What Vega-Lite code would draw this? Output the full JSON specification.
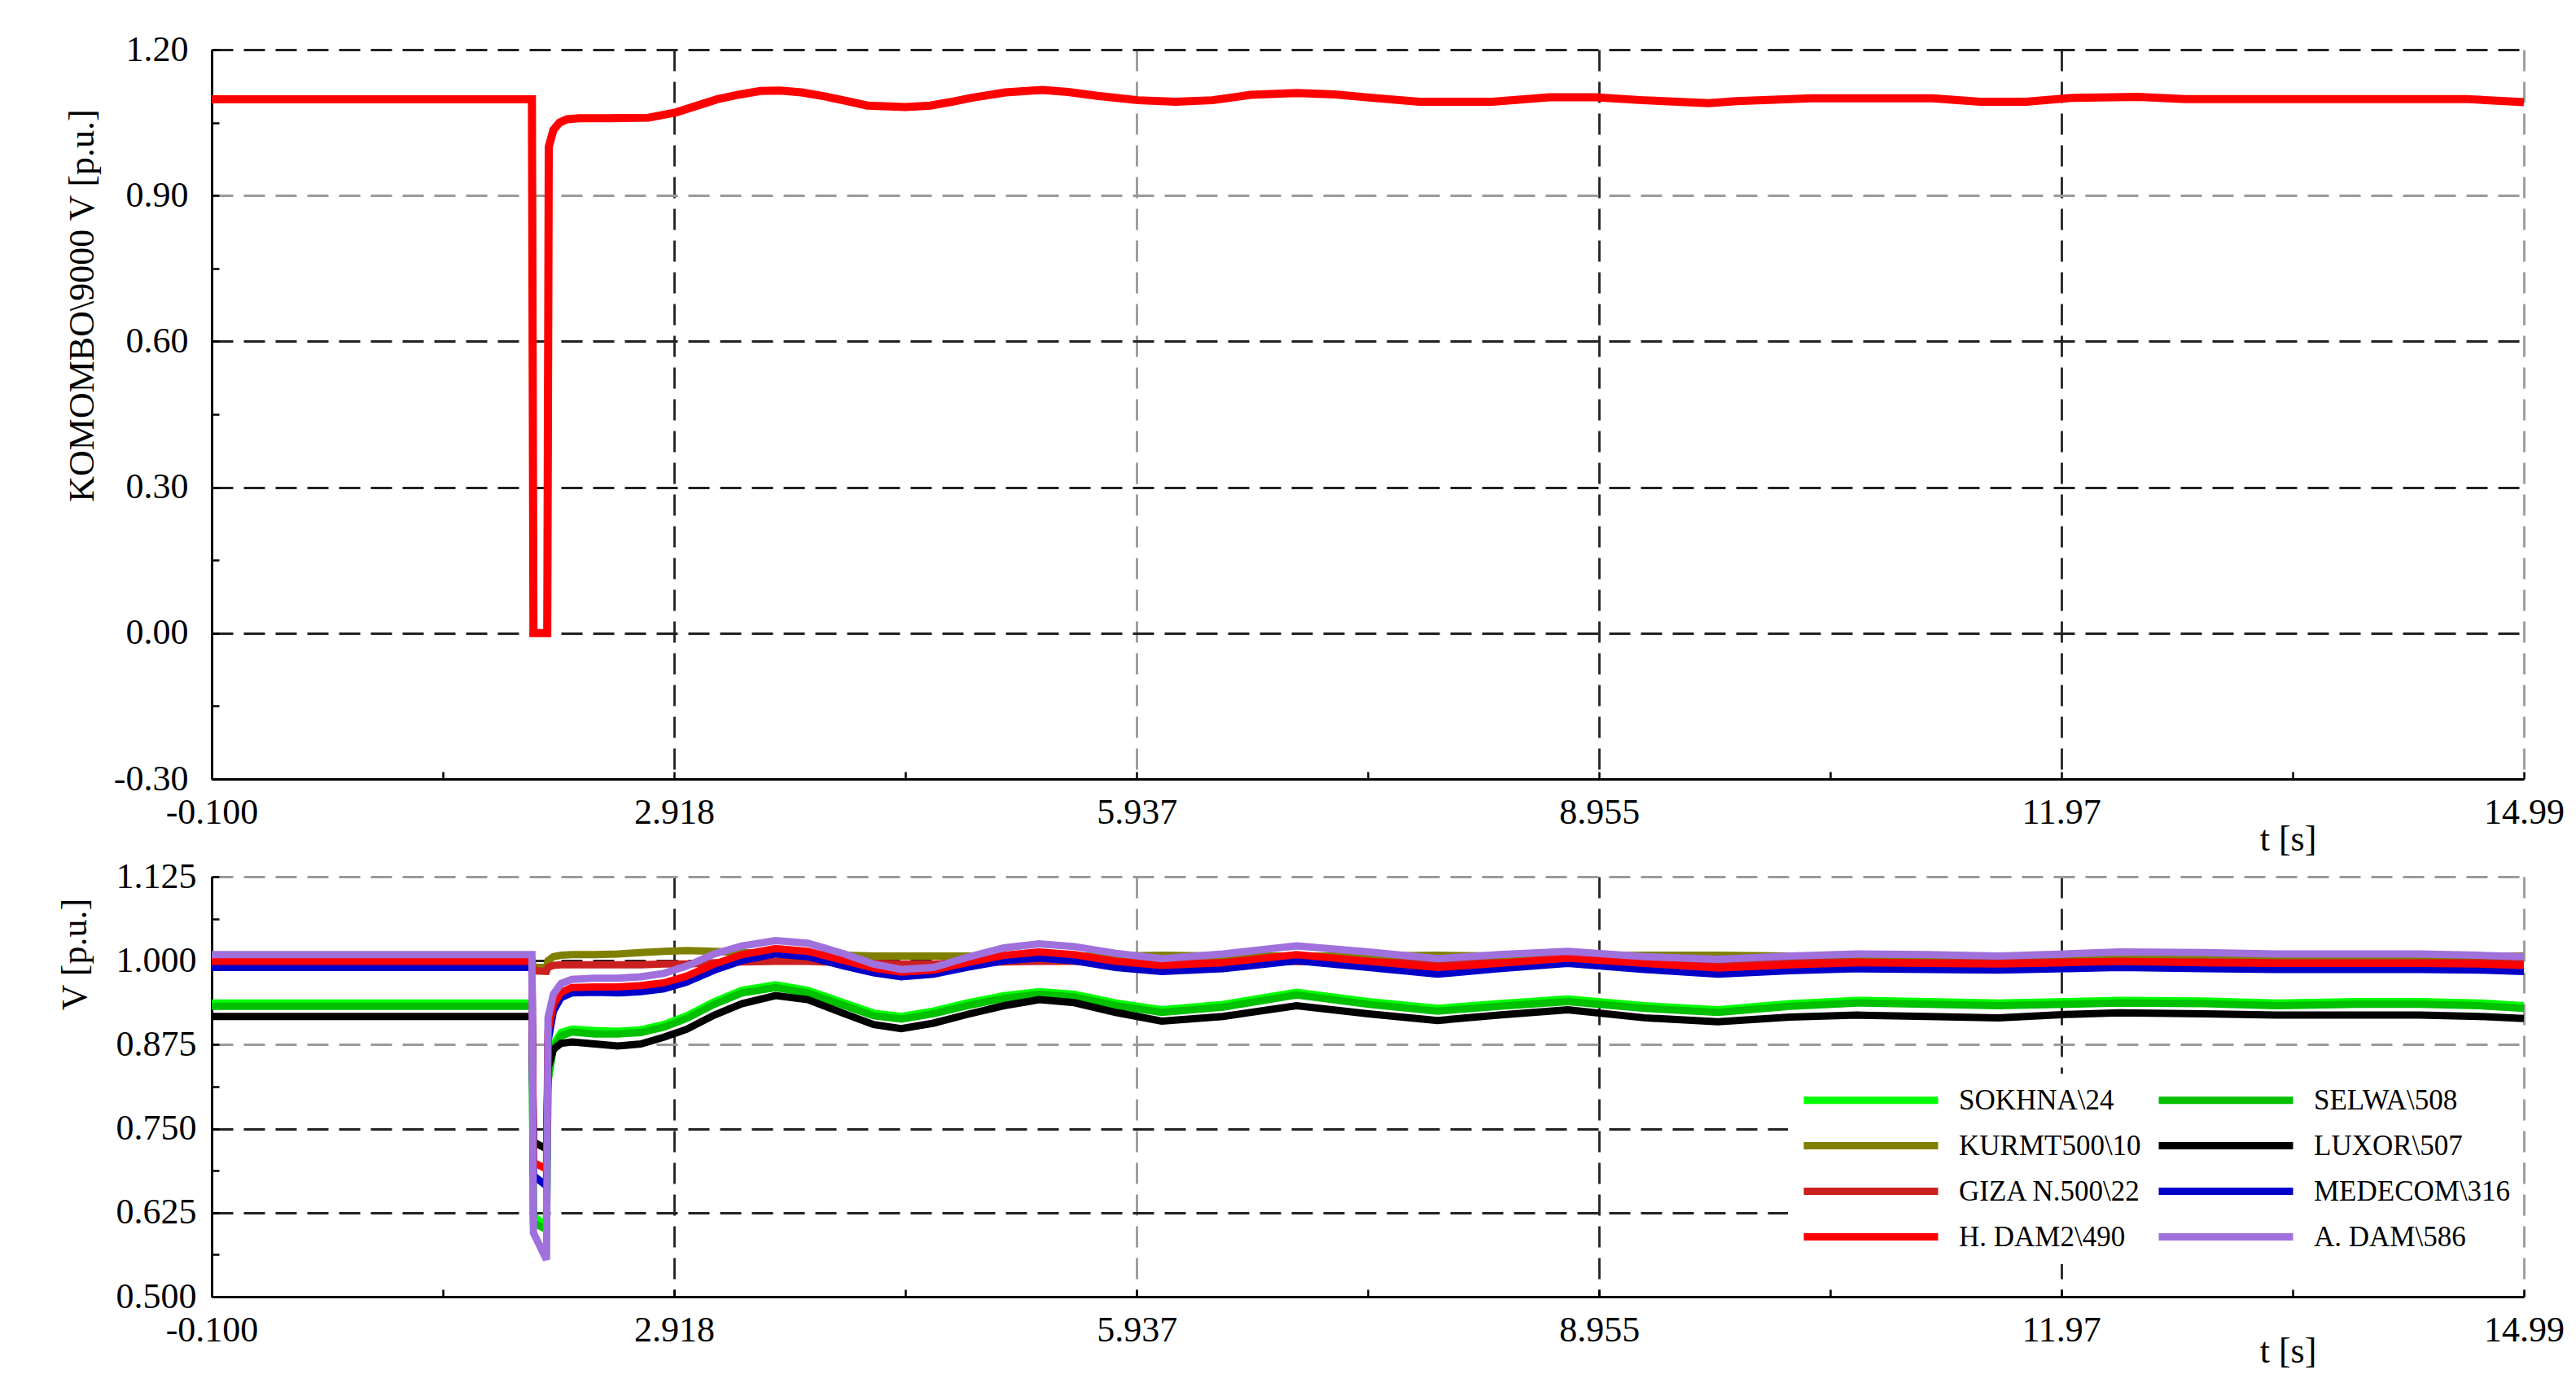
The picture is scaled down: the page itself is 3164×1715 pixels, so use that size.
{
  "$schema": "https://vega.github.io/schema/vega-lite/v6.json",
  "background": "white",
  "padding": {"left": 70, "top": 39, "right": 5, "bottom": 5},
  "spacing": 120,
  "bounds": "flush",
  "config": {
    "font": "Liberation Serif",
    "view": {"stroke": null},
    "axis": {
      "domainColor": "#000000", "domainWidth": 3,
      "tickColor": "#000000", "tickWidth": 2.5, "tickSize": -9,
      "labelFont": "Liberation Serif", "labelFontSize": 44, "labelColor": "#000000",
      "labelFlush": false, "labelOverlap": false, "labelBound": false,
      "titleFont": "Liberation Serif", "titleFontSize": 44, "titleFontWeight": "normal", "titleColor": "#000000",
      "grid": true, "gridDash": [26, 13], "gridWidth": 2.8
    },
    "legend": {
      "labelFont": "Liberation Serif", "labelFontSize": 35, "labelColor": "#000000"
    }
  },
  "datasets": {
    "top": [
      {"t": -0.1, "v": 1.098}, {"t": 1.99, "v": 1.098}, {"t": 2.0, "v": 0.0}, {"t": 2.09, "v": 0.0},
      {"t": 2.1, "v": 1.0}, {"t": 2.13, "v": 1.035}, {"t": 2.17, "v": 1.05}, {"t": 2.22, "v": 1.057},
      {"t": 2.3, "v": 1.059}, {"t": 2.5, "v": 1.059}, {"t": 2.75, "v": 1.06}, {"t": 2.93, "v": 1.071},
      {"t": 3.05, "v": 1.083}, {"t": 3.2, "v": 1.098}, {"t": 3.35, "v": 1.108}, {"t": 3.48, "v": 1.115},
      {"t": 3.61, "v": 1.116}, {"t": 3.75, "v": 1.112}, {"t": 3.9, "v": 1.104}, {"t": 4.02, "v": 1.096},
      {"t": 4.18, "v": 1.085}, {"t": 4.43, "v": 1.082}, {"t": 4.59, "v": 1.085}, {"t": 4.75, "v": 1.094},
      {"t": 4.86, "v": 1.101}, {"t": 5.08, "v": 1.112}, {"t": 5.32, "v": 1.117}, {"t": 5.49, "v": 1.113},
      {"t": 5.68, "v": 1.105}, {"t": 5.946, "v": 1.096}, {"t": 6.19, "v": 1.093}, {"t": 6.43, "v": 1.096},
      {"t": 6.68, "v": 1.107}, {"t": 6.98, "v": 1.111}, {"t": 7.23, "v": 1.108}, {"t": 7.47, "v": 1.101},
      {"t": 7.78, "v": 1.093}, {"t": 8.26, "v": 1.093}, {"t": 8.63, "v": 1.102}, {"t": 8.93, "v": 1.102},
      {"t": 9.24, "v": 1.096}, {"t": 9.67, "v": 1.09}, {"t": 9.85, "v": 1.094}, {"t": 10.34, "v": 1.1},
      {"t": 11.13, "v": 1.1}, {"t": 11.44, "v": 1.093}, {"t": 11.74, "v": 1.093}, {"t": 12.05, "v": 1.101},
      {"t": 12.47, "v": 1.103}, {"t": 12.78, "v": 1.0985}, {"t": 14.61, "v": 1.0985}, {"t": 14.99, "v": 1.092}
    ],
    "names": [
      {"k": "SOK", "name": "SOKHNA\\24"}, {"k": "SEL", "name": "SELWA\\508"},
      {"k": "KUR", "name": "KURMT500\\10"}, {"k": "LUX", "name": "LUXOR\\507"},
      {"k": "GIZ", "name": "GIZA N.500\\22"}, {"k": "MED", "name": "MEDECOM\\316"},
      {"k": "HD", "name": "H. DAM2\\490"}, {"k": "AD", "name": "A. DAM\\586"}
    ],
    "bottom": [
      {"t": -0.1, "SOK": 0.937, "SEL": 0.932, "KUR": 1.0, "LUX": 0.917, "GIZ": 0.997, "MED": 0.99, "HD": 0.999, "AD": 1.009},
      {"t": 1.99, "SOK": 0.937, "SEL": 0.932, "KUR": 1.0, "LUX": 0.917, "GIZ": 0.997, "MED": 0.99, "HD": 0.999, "AD": 1.009},
      {"t": 2.0, "SOK": 0.62, "SEL": 0.61, "KUR": 0.99, "LUX": 0.73, "GIZ": 0.985, "MED": 0.68, "HD": 0.7, "AD": 0.595},
      {"t": 2.085, "SOK": 0.605, "SEL": 0.6, "KUR": 0.99, "LUX": 0.72, "GIZ": 0.984, "MED": 0.665, "HD": 0.69, "AD": 0.555},
      {"t": 2.095, "SOK": 0.83, "SEL": 0.82, "KUR": 1.0, "LUX": 0.84, "GIZ": 0.99, "MED": 0.88, "HD": 0.895, "AD": 0.915},
      {"t": 2.13, "SOK": 0.875, "SEL": 0.87, "KUR": 1.006, "LUX": 0.868, "GIZ": 0.993, "MED": 0.925, "HD": 0.935, "AD": 0.95},
      {"t": 2.18, "SOK": 0.893, "SEL": 0.888, "KUR": 1.008, "LUX": 0.877, "GIZ": 0.994, "MED": 0.945, "HD": 0.953, "AD": 0.966},
      {"t": 2.25, "SOK": 0.898, "SEL": 0.894, "KUR": 1.009, "LUX": 0.879, "GIZ": 0.994, "MED": 0.952, "HD": 0.96, "AD": 0.972},
      {"t": 2.4, "SOK": 0.896, "SEL": 0.891, "KUR": 1.009, "LUX": 0.876, "GIZ": 0.994, "MED": 0.953, "HD": 0.961, "AD": 0.974},
      {"t": 2.55, "SOK": 0.895, "SEL": 0.891, "KUR": 1.01, "LUX": 0.873, "GIZ": 0.994, "MED": 0.952, "HD": 0.961, "AD": 0.974},
      {"t": 2.7, "SOK": 0.897, "SEL": 0.893, "KUR": 1.012, "LUX": 0.876, "GIZ": 0.994, "MED": 0.954, "HD": 0.963, "AD": 0.976},
      {"t": 2.85, "SOK": 0.905, "SEL": 0.901, "KUR": 1.014, "LUX": 0.886, "GIZ": 0.995, "MED": 0.958, "HD": 0.967, "AD": 0.981},
      {"t": 3.0, "SOK": 0.918, "SEL": 0.914, "KUR": 1.015, "LUX": 0.898, "GIZ": 0.995, "MED": 0.968, "HD": 0.977, "AD": 0.992},
      {"t": 3.18, "SOK": 0.939, "SEL": 0.935, "KUR": 1.014, "LUX": 0.919, "GIZ": 0.997, "MED": 0.986, "HD": 0.995, "AD": 1.01},
      {"t": 3.36, "SOK": 0.956, "SEL": 0.952, "KUR": 1.012, "LUX": 0.936, "GIZ": 0.998, "MED": 1.0, "HD": 1.009, "AD": 1.022},
      {"t": 3.58, "SOK": 0.964, "SEL": 0.96, "KUR": 1.011, "LUX": 0.948, "GIZ": 0.999, "MED": 1.01, "HD": 1.018, "AD": 1.03},
      {"t": 3.79, "SOK": 0.956, "SEL": 0.952, "KUR": 1.01, "LUX": 0.942, "GIZ": 0.999, "MED": 1.006, "HD": 1.014, "AD": 1.026},
      {"t": 4.03, "SOK": 0.937, "SEL": 0.933, "KUR": 1.008, "LUX": 0.921, "GIZ": 0.997, "MED": 0.992, "HD": 1.0, "AD": 1.01},
      {"t": 4.22, "SOK": 0.922, "SEL": 0.918, "KUR": 1.007, "LUX": 0.905, "GIZ": 0.996, "MED": 0.982, "HD": 0.989, "AD": 0.995},
      {"t": 4.4, "SOK": 0.917, "SEL": 0.913, "KUR": 1.007, "LUX": 0.899, "GIZ": 0.995, "MED": 0.976, "HD": 0.983, "AD": 0.987},
      {"t": 4.61, "SOK": 0.925, "SEL": 0.921, "KUR": 1.007, "LUX": 0.907, "GIZ": 0.995, "MED": 0.98, "HD": 0.986, "AD": 0.99},
      {"t": 4.83, "SOK": 0.937, "SEL": 0.933, "KUR": 1.007, "LUX": 0.92, "GIZ": 0.997, "MED": 0.99, "HD": 0.997, "AD": 1.005},
      {"t": 5.07, "SOK": 0.948, "SEL": 0.944, "KUR": 1.007, "LUX": 0.933, "GIZ": 0.998, "MED": 1.0, "HD": 1.008, "AD": 1.019},
      {"t": 5.3, "SOK": 0.954, "SEL": 0.95, "KUR": 1.007, "LUX": 0.942, "GIZ": 0.999, "MED": 1.004, "HD": 1.013, "AD": 1.025},
      {"t": 5.53, "SOK": 0.95, "SEL": 0.946, "KUR": 1.007, "LUX": 0.9375, "GIZ": 0.999, "MED": 1.0, "HD": 1.009, "AD": 1.021},
      {"t": 5.8, "SOK": 0.937, "SEL": 0.933, "KUR": 1.007, "LUX": 0.923, "GIZ": 0.997, "MED": 0.99, "HD": 0.999, "AD": 1.011},
      {"t": 6.1, "SOK": 0.927, "SEL": 0.923, "KUR": 1.008, "LUX": 0.91, "GIZ": 0.996, "MED": 0.984, "HD": 0.993, "AD": 1.003},
      {"t": 6.5, "SOK": 0.935, "SEL": 0.931, "KUR": 1.007, "LUX": 0.917, "GIZ": 0.997, "MED": 0.988, "HD": 0.997, "AD": 1.01},
      {"t": 6.98, "SOK": 0.953, "SEL": 0.949, "KUR": 1.007, "LUX": 0.933, "GIZ": 0.999, "MED": 1.0, "HD": 1.009, "AD": 1.022},
      {"t": 7.45, "SOK": 0.939, "SEL": 0.935, "KUR": 1.007, "LUX": 0.921, "GIZ": 0.998, "MED": 0.99, "HD": 0.999, "AD": 1.013},
      {"t": 7.9, "SOK": 0.929, "SEL": 0.925, "KUR": 1.008, "LUX": 0.911, "GIZ": 0.996, "MED": 0.98, "HD": 0.99, "AD": 1.003},
      {"t": 8.3, "SOK": 0.936, "SEL": 0.932, "KUR": 1.007, "LUX": 0.919, "GIZ": 0.997, "MED": 0.988, "HD": 0.996, "AD": 1.009},
      {"t": 8.75, "SOK": 0.943, "SEL": 0.939, "KUR": 1.007, "LUX": 0.927, "GIZ": 0.998, "MED": 0.996, "HD": 1.004, "AD": 1.014},
      {"t": 9.25, "SOK": 0.933, "SEL": 0.929, "KUR": 1.008, "LUX": 0.915, "GIZ": 0.997, "MED": 0.987, "HD": 0.996, "AD": 1.006},
      {"t": 9.73, "SOK": 0.927, "SEL": 0.923, "KUR": 1.008, "LUX": 0.909, "GIZ": 0.996, "MED": 0.98, "HD": 0.989, "AD": 1.002},
      {"t": 10.2, "SOK": 0.936, "SEL": 0.932, "KUR": 1.007, "LUX": 0.916, "GIZ": 0.997, "MED": 0.985, "HD": 0.994, "AD": 1.007},
      {"t": 10.64, "SOK": 0.941, "SEL": 0.937, "KUR": 1.007, "LUX": 0.919, "GIZ": 0.998, "MED": 0.988, "HD": 0.997, "AD": 1.01},
      {"t": 11.1, "SOK": 0.939, "SEL": 0.935, "KUR": 1.007, "LUX": 0.917, "GIZ": 0.997, "MED": 0.987, "HD": 0.996, "AD": 1.009},
      {"t": 11.56, "SOK": 0.937, "SEL": 0.933, "KUR": 1.007, "LUX": 0.915, "GIZ": 0.997, "MED": 0.986, "HD": 0.995, "AD": 1.007},
      {"t": 12.0, "SOK": 0.939, "SEL": 0.935, "KUR": 1.007, "LUX": 0.92, "GIZ": 0.998, "MED": 0.988, "HD": 0.997, "AD": 1.01},
      {"t": 12.35, "SOK": 0.941, "SEL": 0.937, "KUR": 1.007, "LUX": 0.9225, "GIZ": 0.998, "MED": 0.99, "HD": 0.999, "AD": 1.013},
      {"t": 12.9, "SOK": 0.94, "SEL": 0.936, "KUR": 1.007, "LUX": 0.921, "GIZ": 0.998, "MED": 0.988, "HD": 0.997, "AD": 1.012},
      {"t": 13.39, "SOK": 0.937, "SEL": 0.933, "KUR": 1.007, "LUX": 0.919, "GIZ": 0.997, "MED": 0.987, "HD": 0.996, "AD": 1.01},
      {"t": 13.9, "SOK": 0.939, "SEL": 0.935, "KUR": 1.007, "LUX": 0.919, "GIZ": 0.997, "MED": 0.987, "HD": 0.996, "AD": 1.01},
      {"t": 14.31, "SOK": 0.939, "SEL": 0.935, "KUR": 1.007, "LUX": 0.919, "GIZ": 0.997, "MED": 0.987, "HD": 0.996, "AD": 1.01},
      {"t": 14.7, "SOK": 0.937, "SEL": 0.933, "KUR": 1.007, "LUX": 0.917, "GIZ": 0.997, "MED": 0.986, "HD": 0.995, "AD": 1.008},
      {"t": 14.99, "SOK": 0.933, "SEL": 0.929, "KUR": 1.007, "LUX": 0.914, "GIZ": 0.996, "MED": 0.984, "HD": 0.993, "AD": 1.006}
    ]
  },
  "vconcat": [
    {
      "width": 2840,
      "height": 896,
      "data": {"name": "top"},
      "mark": {"type": "line", "color": "#FF0000", "strokeWidth": 10, "interpolate": "linear"},
      "encoding": {
        "x": {
          "field": "t", "type": "quantitative",
          "scale": {"domain": [-0.1, 14.99], "nice": false, "zero": false},
          "axis": {
            "values": [-0.1, 1.409, 2.918, 4.4275, 5.937, 7.446, 8.955, 10.4625, 11.97, 13.48, 14.99],
            "labelExpr": "datum.value == -0.1 ? '-0.100' : datum.value == 2.918 ? '2.918' : datum.value == 5.937 ? '5.937' : datum.value == 8.955 ? '8.955' : datum.value == 11.97 ? '11.97' : datum.value == 14.99 ? '14.99' : ''",
            "labelPadding": 28,
            "title": "t [s]", "titleX": 2550, "titleY": 87, "titleBaseline": "alphabetic", "titleAlign": "center",
            "gridColor": {"condition": {"test": "datum.value == 5.937 || datum.value == 14.99", "value": "#9a9a9a"}, "value": "#222222"},
            "gridOpacity": {"condition": {"test": "indexof([1.409, 4.4275, 7.446, 10.4625, 13.48], datum.value) >= 0", "value": 0}, "value": 1}
          }
        },
        "y": {
          "field": "v", "type": "quantitative",
          "scale": {"domain": [-0.3, 1.2], "nice": false, "zero": false},
          "axis": {
            "values": [-0.3, -0.15, 0, 0.15, 0.3, 0.45, 0.6, 0.75, 0.9, 1.05, 1.2],
            "labelExpr": "datum.value == -0.3 ? '-0.30' : indexof([-0.15, 0.15, 0.45, 0.75, 1.05], datum.value) >= 0 ? '' : format(datum.value, '.2f')",
            "labelPadding": 38,
            "title": "KOMOMBO\\9000 V [p.u.]", "titleX": -146, "titleY": 314, "titleAngle": 270,
            "titleBaseline": "alphabetic", "titleAlign": "center",
            "gridColor": {"condition": {"test": "datum.value == 0.9", "value": "#9a9a9a"}, "value": "#222222"},
            "gridOpacity": {"condition": {"test": "indexof([-0.15, 0.15, 0.45, 0.75, 1.05], datum.value) >= 0", "value": 0}, "value": 1}
          }
        }
      }
    },
    {
      "width": 2840,
      "height": 516,
      "data": {"name": "bottom"},
      "transform": [
        {"fold": ["SOK", "SEL", "KUR", "LUX", "GIZ", "MED", "HD", "AD"], "as": ["k", "v"]},
        {"lookup": "k", "from": {"data": {"name": "names"}, "key": "k", "fields": ["name"]}}
      ],
      "mark": {"type": "line", "strokeWidth": 9, "interpolate": "linear"},
      "encoding": {
        "x": {
          "field": "t", "type": "quantitative",
          "scale": {"domain": [-0.1, 14.99], "nice": false, "zero": false},
          "axis": {
            "values": [-0.1, 1.409, 2.918, 4.4275, 5.937, 7.446, 8.955, 10.4625, 11.97, 13.48, 14.99],
            "labelExpr": "datum.value == -0.1 ? '-0.100' : datum.value == 2.918 ? '2.918' : datum.value == 5.937 ? '5.937' : datum.value == 8.955 ? '8.955' : datum.value == 11.97 ? '11.97' : datum.value == 14.99 ? '14.99' : ''",
            "labelPadding": 28,
            "title": "t [s]", "titleX": 2550, "titleY": 80, "titleBaseline": "alphabetic", "titleAlign": "center",
            "gridColor": {"condition": {"test": "datum.value == 5.937 || datum.value == 14.99", "value": "#9a9a9a"}, "value": "#222222"},
            "gridOpacity": {"condition": {"test": "indexof([1.409, 4.4275, 7.446, 10.4625, 13.48], datum.value) >= 0", "value": 0}, "value": 1}
          }
        },
        "y": {
          "field": "v", "type": "quantitative",
          "scale": {"domain": [0.5, 1.125], "nice": false, "zero": false},
          "axis": {
            "values": [0.5, 0.5625, 0.625, 0.6875, 0.75, 0.8125, 0.875, 0.9375, 1.0, 1.0625, 1.125],
            "labelExpr": "indexof([0.5625, 0.6875, 0.8125, 0.9375, 1.0625], datum.value) >= 0 ? '' : format(datum.value, '.3f')",
            "labelPadding": 28,
            "title": "V [p.u.]", "titleX": -155, "titleY": 95, "titleAngle": 270,
            "titleBaseline": "alphabetic", "titleAlign": "center",
            "gridColor": {"condition": {"test": "datum.value == 0.875 || datum.value == 1.125", "value": "#9a9a9a"}, "value": "#222222"},
            "gridOpacity": {"condition": {"test": "indexof([0.5625, 0.6875, 0.8125, 0.9375, 1.0625], datum.value) >= 0", "value": 0}, "value": 1}
          }
        },
        "color": {
          "field": "name", "type": "nominal",
          "scale": {
            "domain": ["SOKHNA\\24", "SELWA\\508", "KURMT500\\10", "LUXOR\\507", "GIZA N.500\\22", "MEDECOM\\316", "H. DAM2\\490", "A. DAM\\586"],
            "range": ["#00FF00", "#00C000", "#808000", "#000000", "#CC2020", "#0000C8", "#FF0000", "#A070DD"]
          },
          "legend": {
            "orient": "none", "legendX": 1936, "legendY": 1258, "columns": 2, "direction": "horizontal",
            "title": null, "symbolType": "stroke", "symbolSize": 27225, "symbolStrokeWidth": 9,
            "clipHeight": 35, "labelFont": "Liberation Serif", "labelFontSize": 35, "labelColor": "#000000",
            "labelOffset": 21, "columnPadding": 17, "rowPadding": 20, "padding": 15, "labelLimit": 0,
            "fillColor": "#FFFFFF", "strokeColor": null
          }
        }
      }
    }
  ]
}
